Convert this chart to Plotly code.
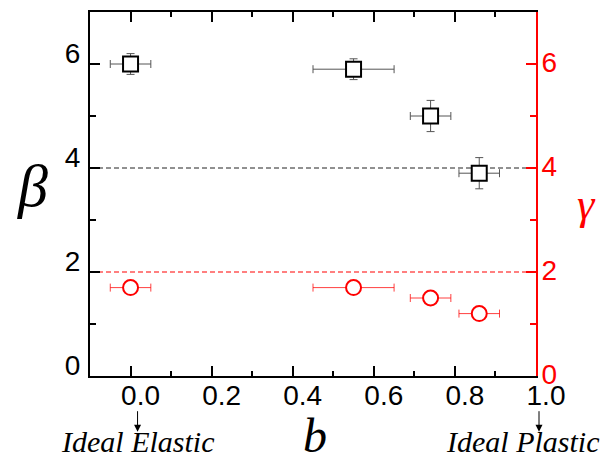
import plotly.graph_objects as go

# ---- data ----
b_vals = [0.0, 0.55, 0.74, 0.86]
b_err = [0.05, 0.10, 0.05, 0.05]
beta_vals = [6.0, 5.9, 5.0, 3.9]
beta_err = [0.2, 0.2, 0.3, 0.3]
gamma_vals = [1.7, 1.7, 1.5, 1.2]
beta_ref = 4.0
gamma_ref = 2.0
x_range = [-0.1, 1.0]
y_range = [0, 7]
x_ticks = [0.0, 0.2, 0.4, 0.6, 0.8, 1.0]
x_ticklabels = ["0.0", "0.2", "0.4", "0.6", "0.8", "1.0"]
y_ticks = [0, 2, 4, 6]
y_ticklabels = ["0", "2", "4", "6"]
limit_labels = ["Ideal Elastic", "Ideal Plastic"]
limit_b = [0.0, 1.0]

RED = "#FF0000"
TICKFONT = "Arial, Liberation Sans, sans-serif"
SERIF = "Times New Roman, Liberation Serif, serif"

fig = go.Figure()

# reference dashed lines
fig.add_trace(go.Scatter(x=x_range, y=[beta_ref, beta_ref], mode="lines",
                         line=dict(color="#222222", width=1, dash="5px,3px"),
                         hoverinfo="skip", yaxis="y"))
fig.add_trace(go.Scatter(x=x_range, y=[gamma_ref, gamma_ref], mode="lines",
                         line=dict(color=RED, width=1.2, dash="5px,3px"),
                         hoverinfo="skip", yaxis="y2"))

# beta (black squares)
fig.add_trace(go.Scatter(
    x=b_vals, y=beta_vals, mode="markers", yaxis="y",
    marker=dict(symbol="square", size=15, color="white",
                line=dict(color="black", width=2)),
    error_x=dict(type="data", array=b_err, color="#555555", thickness=1, width=4),
    error_y=dict(type="data", array=beta_err, color="#555555", thickness=1, width=4),
))

# gamma (red circles)
fig.add_trace(go.Scatter(
    x=b_vals, y=gamma_vals, mode="markers", yaxis="y2",
    marker=dict(symbol="circle", size=15, color="white",
                line=dict(color=RED, width=2)),
    error_x=dict(type="data", array=b_err, color="rgba(255,0,0,0.75)", thickness=1, width=4),
))

fig.update_layout(
    width=612, height=461,
    margin=dict(l=90, r=76, t=10, b=85),
    plot_bgcolor="white", paper_bgcolor="white",
    showlegend=False,
    xaxis=dict(
        range=x_range, tickvals=x_ticks, ticktext=x_ticklabels,
        showline=True, linecolor="black", linewidth=2, mirror="ticks",
        ticks="inside", ticklen=10, tickwidth=2, tickcolor="black",
        minor=dict(ticks="inside", ticklen=5, tickwidth=1.5, dtick=0.1, tick0=0, tickcolor="black"),
        showgrid=False, zeroline=False,
        tickfont=dict(family=TICKFONT, size=28, color="black"),
        ticklabelshift=10, ticklabelstandoff=-7,
    ),
    yaxis=dict(
        range=y_range, tickvals=y_ticks, ticktext=y_ticklabels,
        showline=True, linecolor="black", linewidth=2,
        ticks="inside", ticklen=10, tickwidth=2, tickcolor="black",
        minor=dict(ticks="inside", ticklen=6, tickwidth=1.5, dtick=1, tick0=0, tickcolor="black"),
        showgrid=False, zeroline=False,
        tickfont=dict(family=TICKFONT, size=28, color="black"),
        ticklabelshift=-11, ticklabelstandoff=2,
    ),
    yaxis2=dict(
        range=y_range, tickvals=y_ticks, ticktext=y_ticklabels,
        overlaying="y", side="right", anchor="x",
        showline=True, linecolor=RED, linewidth=2,
        ticks="inside", ticklen=10, tickwidth=2, tickcolor=RED,
        minor=dict(ticks="inside", ticklen=6, tickwidth=1.5, dtick=1, tick0=0, tickcolor=RED),
        showgrid=False, zeroline=False,
        tickfont=dict(family=TICKFONT, size=28, color=RED),
        ticklabelstandoff=-2, ticklabelshift=-2,
    ),
)

annotations = [
    dict(text="<i>β</i>", xref="paper", yref="paper", x=-0.1300, y=0.522,
         showarrow=False, font=dict(family=SERIF, size=60, color="black"),
         xanchor="center", yanchor="middle"),
    dict(text="<i>γ</i>", xref="paper", yref="paper", x=1.114, y=0.472,
         showarrow=False, font=dict(family=SERIF, size=44, color=RED),
         xanchor="center", yanchor="middle"),
    dict(text="<i>b</i>", xref="paper", yref="paper", x=0.5045, y=-0.1626,
         height=48, valign="middle",
         showarrow=False, font=dict(family=SERIF, size=48, color="black"),
         xanchor="center", yanchor="middle"),
    dict(text="<i>" + limit_labels[0] + "</i>", xref="paper", yref="paper", x=0.1076, y=-0.181,
         showarrow=False, font=dict(family=SERIF, size=30, color="black"),
         xanchor="center", yanchor="middle"),
    dict(text="<i>" + limit_labels[1] + "</i>", xref="paper", yref="paper", x=0.9697, y=-0.181,
         showarrow=False, font=dict(family=SERIF, size=30, color="black"),
         xanchor="center", yanchor="middle"),
]
for xb, xs in zip(limit_b, [7, 3]):
    annotations.append(dict(
        text="", xref="x", yref="paper", x=xb, y=-0.153, xshift=xs,
        showarrow=True, ax=0, ay=-22, arrowhead=2, arrowsize=1.4, arrowwidth=1,
        arrowcolor="black"))
fig.update_layout(annotations=annotations)

fig.write_html("out.html")
